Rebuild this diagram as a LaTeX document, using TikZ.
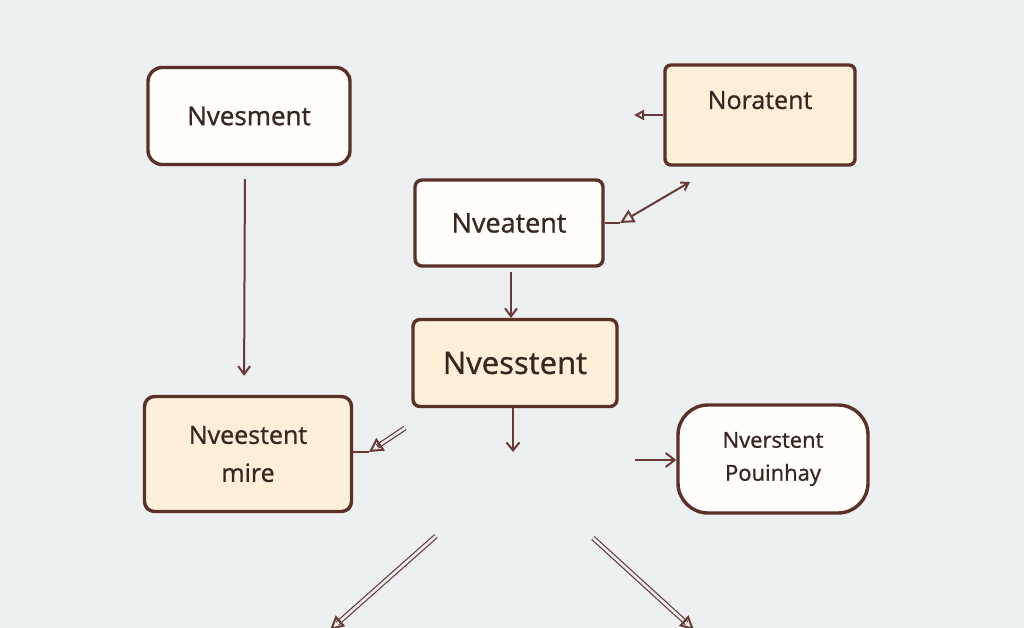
\documentclass[tikz,border=0pt]{standalone}
\usepackage{fontspec}
\setmainfont{Open Sans}[FakeBold=1]
\usetikzlibrary{arrows.meta,shapes.misc,calc}
\definecolor{bg}{HTML}{ECF0F1}
\definecolor{edge}{HTML}{5A3027}
\definecolor{cream}{HTML}{FCF1D8}
\definecolor{paper}{HTML}{FFFEFB}
\definecolor{ink}{HTML}{3A2620}
\definecolor{wire}{HTML}{693838}
\tikzset{
  box/.style={draw=edge, line width=3.4pt, rounded corners=14pt, text=ink, align=center, inner sep=0pt},
  wbox/.style={box, fill=paper},
  cbox/.style={box, fill=cream},
  conn/.style={draw=wire, line width=2pt},
  dbl/.style={draw=wire, line width=1.2pt, double=bg, double distance=2.6pt},
}
\begin{document}
\begin{tikzpicture}[x=1pt,y=-1pt]
\fill[bg] (0,0) rectangle (1024,628);
\useasboundingbox (0,0) rectangle (1024,628);

\node[wbox, minimum width=202pt, minimum height=97pt, font=\fontsize{26}{30}\selectfont] (b1) at (249,116) {Nvesment};
\node[cbox, rounded corners=6pt, minimum width=190pt, minimum height=100pt, text depth=30pt, font=\fontsize{25}{28}\selectfont] (b2) at (760,115) {Noratent};
\node[wbox, rounded corners=7pt, minimum width=188pt, minimum height=86pt, font=\fontsize{27}{30}\selectfont] (b3) at (509,223) {Nveatent};
\node[cbox, rounded corners=7pt, minimum width=204pt, minimum height=87pt, font=\fontsize{31}{34}\selectfont] (b4) at (515,363) {Nvesstent};
\node[cbox, rounded corners=10pt, minimum width=207pt, minimum height=115pt, font=\fontsize{25}{38}\selectfont] (b5) at (248,454) {Nveestent\\mire};
\node[wbox, rounded corners=30pt, minimum width=190pt, minimum height=108pt, font=\fontsize{22}{33}\selectfont] (b6) at (773,459) {Nverstent\\Pouinhay};

% connectors
\draw[conn, -{Straight Barb[length=8pt,width=12pt]}, shorten <=13pt, shorten >=19pt] ([xshift=-4pt]b1.south) -- ([xshift=-4pt]b5.north);
\coordinate (d3) at (511,318);
\draw[conn, -{Straight Barb[length=8pt,width=12pt]}, shorten <=4pt] (b3.south -| d3) -- (d3);
\coordinate (d4) at (513,452);
\draw[conn, -{Straight Barb[length=8pt,width=13pt]}] (b4.south -| d4) -- (d4);

\coordinate (l2) at (634,115);
\draw[conn, -{Triangle[open,length=10pt,width=10pt]}] (b2.west |- l2) -- (l2);

\coordinate (t3) at (620,223);
\coordinate (u3) at (690,182);
\draw[conn] (b3.east |- t3) -- (t3);
\draw[conn, {Triangle[open,length=14pt,width=14pt]}-{Straight Barb[length=7pt,width=9pt]}] (t3) -- (u3);

\coordinate (t5) at (369,452);
\coordinate (s5) at (405,428);
\draw[conn] (b5.east |- t5) -- (t5);
\draw[dbl, shorten >=10pt] (s5) -- (t5);
\draw[conn, -{Triangle[open,length=14pt,width=15pt]}] ($(t5)!10pt!(s5)$) -- (t5);

\coordinate (s6) at (635,460);
\draw[conn, -{Straight Barb[length=9pt,width=14pt]}] (s6) -- (b6.west |- s6);

\coordinate (s7) at (436,536);
\coordinate (t7) at (330,630);
\draw[dbl, shorten >=10pt] (s7) -- (t7);
\draw[conn, -{Triangle[open,length=14pt,width=14pt]}] ($(t7)!12pt!(s7)$) -- (t7);

\coordinate (s8) at (593,538);
\coordinate (t8) at (694,630);
\draw[dbl, shorten >=10pt] (s8) -- (t8);
\draw[conn, -{Triangle[open,length=14pt,width=14pt]}] ($(t8)!12pt!(s8)$) -- (t8);
\end{tikzpicture}
\end{document}
